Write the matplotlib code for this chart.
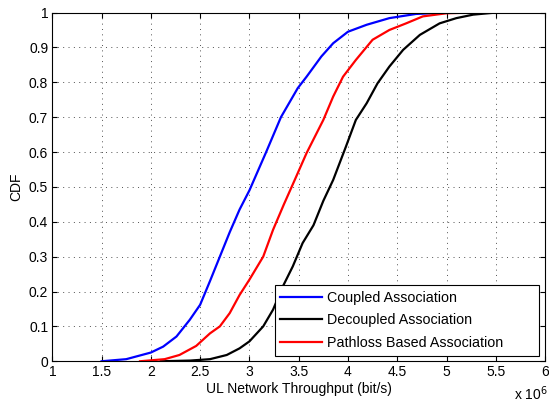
import matplotlib
matplotlib.use('Agg')
import matplotlib.pyplot as plt
import numpy as np

plt.rcParams['font.family'] = ['Liberation Sans', 'DejaVu Sans']

# throughput values in units of 1e6 bit/s, with CDF values
coupled_x = [1.5, 1.75, 2.0, 2.125, 2.26, 2.395, 2.5, 2.6, 2.7, 2.8, 2.9, 3.0, 3.17, 3.32,
             3.49, 3.58, 3.73, 3.85, 4.0, 4.19, 4.42, 4.69, 5.0, 6.0]
coupled_y = [0.0, 0.006, 0.025, 0.042, 0.071, 0.119, 0.162, 0.23, 0.3, 0.37, 0.435, 0.49, 0.6, 0.7,
             0.783, 0.816, 0.874, 0.912, 0.945, 0.965, 0.984, 0.996, 1.0, 1.0]

decoupled_x = [2.1, 2.4, 2.6, 2.77, 2.9, 3.0, 3.14, 3.24, 3.34, 3.44, 3.54, 3.65, 3.75, 3.85,
               3.98, 4.08, 4.19, 4.3, 4.42, 4.56, 4.73, 4.93, 5.1, 5.27, 5.5, 6.0]
decoupled_y = [0.0, 0.002, 0.006, 0.018, 0.037, 0.057, 0.1, 0.148, 0.215, 0.272, 0.339, 0.39, 0.46, 0.52,
               0.616, 0.692, 0.74, 0.797, 0.845, 0.893, 0.936, 0.969, 0.984, 0.994, 1.0, 1.0]

pathloss_x = [1.89, 2.14, 2.29, 2.46, 2.6, 2.7, 2.8, 2.9, 3.0, 3.14, 3.24, 3.35, 3.46, 3.58,
              3.75, 3.85, 3.95, 4.08, 4.25, 4.42, 4.59, 4.76, 5.0, 5.27, 6.0]
pathloss_y = [0.0, 0.006, 0.018, 0.044, 0.08, 0.1, 0.138, 0.19, 0.234, 0.3, 0.377, 0.45, 0.52, 0.597,
              0.692, 0.759, 0.816, 0.864, 0.922, 0.95, 0.969, 0.989, 0.998, 1.0, 1.0]

labels = ['Coupled Association', 'Decoupled Association', 'Pathloss Based Association']

fig = plt.figure(figsize=(5.49, 4.05), dpi=100)
ax = fig.add_axes([0.0953, 0.108, 0.8975, 0.861])

ax.plot(coupled_x, coupled_y, color='#0000ff', lw=1.6, label=labels[0])
ax.plot(decoupled_x, decoupled_y, color='black', lw=1.6, label=labels[1])
ax.plot(pathloss_x, pathloss_y, color='#ff0000', lw=1.6, label=labels[2])

ax.set_xlim(1, 6)
ax.set_ylim(0, 1)
ax.set_xticks(np.arange(1, 6.01, 0.5))
ax.set_xticklabels(['1', '1.5', '2', '2.5', '3', '3.5', '4', '4.5', '5', '5.5', '6'])
ax.set_yticks(np.arange(0, 1.01, 0.1))
ax.set_yticklabels(['0', '0.1', '0.2', '0.3', '0.4', '0.5', '0.6', '0.7', '0.8', '0.9', '1'])
ax.tick_params(direction='in', top=True, right=True, labelsize=10, length=3.6, width=0.8, pad=3)
ax.grid(True, linestyle=(0, (1, 4.5)), color='#505050', lw=0.7)
for s in ax.spines.values():
    s.set_linewidth(0.8)

ax.set_xlabel('UL Network Throughput (bit/s)', fontsize=10, labelpad=2)
ax.set_ylabel('CDF', fontsize=10, labelpad=4)
fig.text(0.998, 0.005, r'x 10$^6$', ha='right', va='bottom', fontsize=10)

leg = ax.legend(loc='lower right', bbox_to_anchor=(0.451, 0.016, 0.537, 0.206), mode='expand',
                fontsize=10.3, fancybox=False, edgecolor='black', framealpha=1,
                handlelength=2.9, handletextpad=0.4, borderaxespad=0, labelspacing=0.6)
leg.get_frame().set_linewidth(0.8)

fig.savefig('out.png', dpi=100)
